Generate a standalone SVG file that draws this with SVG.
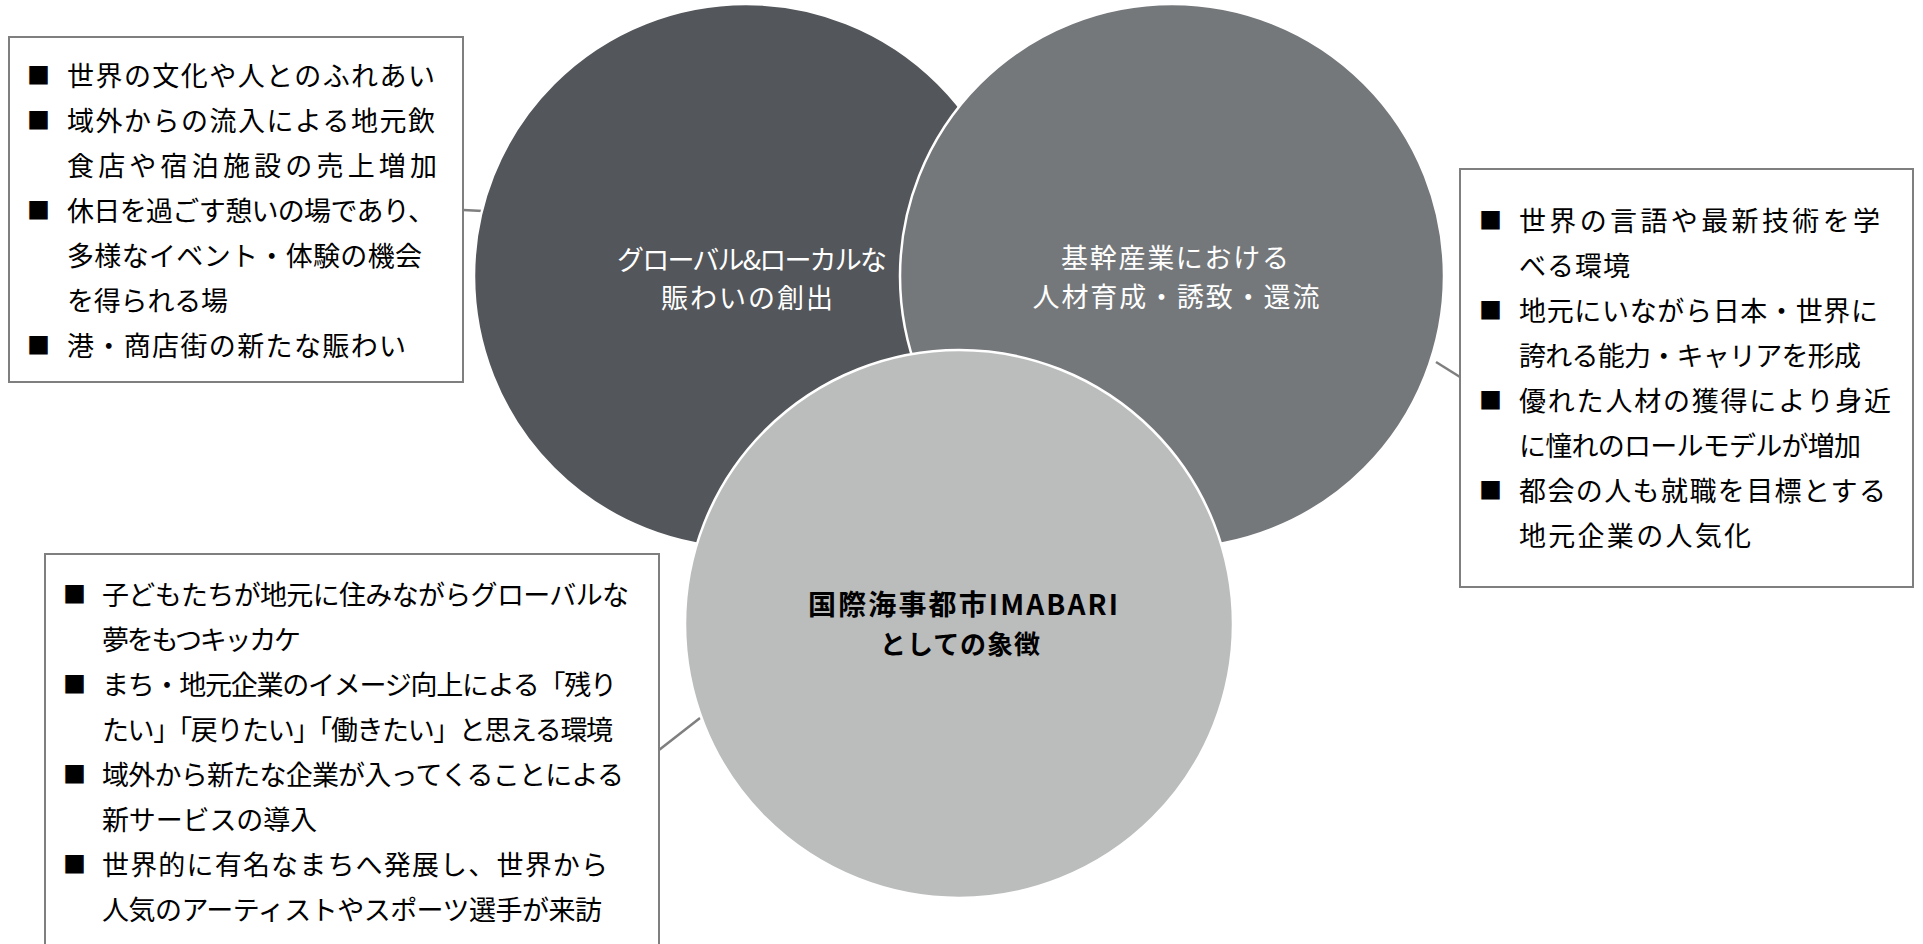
<svg xmlns="http://www.w3.org/2000/svg" width="1923" height="944" viewBox="0 0 1923 944">
<style>
  .box { fill: #ffffff; stroke: #7f7f7f; stroke-width: 2; }
  .conn { stroke: #7f7f7f; stroke-width: 2.5; fill: none; }
  .circ { stroke: #ffffff; stroke-width: 2.5; }
  .t { font-family: "Noto Sans CJK JP", "Noto Sans", sans-serif; font-size: 27px; fill: #000000; }
  .b { font-family: "Noto Sans CJK JP", "Noto Sans", sans-serif; font-size: 23px; fill: #000000; }
  .lw { font-family: "Noto Sans CJK JP", "Noto Sans", sans-serif; font-size: 27px; fill: #ffffff; text-anchor: middle; }
  .lb { font-family: "Noto Sans CJK JP", "Noto Sans", sans-serif; font-size: 26px; font-weight: bold; fill: #000000; text-anchor: middle; }
  .lb1 { font-size: 28px; }
</style>
<rect width="1923" height="944" fill="#ffffff"/>
<g id="connectors">
  <line class="conn" x1="463" y1="210" x2="483" y2="211"/>
  <line class="conn" x1="1436" y1="362" x2="1460" y2="377"/>
  <line class="conn" x1="659" y1="750" x2="700" y2="718"/>
</g>
<g id="circle-global-local">
  <circle class="circ" cx="746" cy="276" r="272" fill="#53565a"/>
  <text class="lw" x="752" y="270" textLength="270">グローバル&amp;ローカルな</text>
  <text class="lw" x="747" y="308" textLength="172">賑わいの創出</text>
</g>
<g id="circle-industry">
  <circle class="circ" cx="1172" cy="276" r="272" fill="#75787b"/>
  <text class="lw" x="1175" y="268" textLength="228">基幹産業における</text>
  <text class="lw" x="1176" y="307" textLength="287">人材育成・誘致・還流</text>
</g>
<g id="circle-symbol">
  <circle class="circ" cx="959" cy="624" r="274" fill="#bbbcbc"/>
  <text class="lb lb1" x="963" y="615" textLength="310">国際海事都市IMABARI</text>
  <text class="lb" x="960" y="654" textLength="160">としての象徴</text>
</g>
<g id="box-global-local">
  <rect class="box" x="9" y="37" width="454" height="345"/>
  <text class="b" x="27" y="84">■</text>
  <text class="b" x="27" y="129">■</text>
  <text class="b" x="27" y="219">■</text>
  <text class="b" x="27" y="354">■</text>
  <text class="t" x="67" y="86" textLength="368">世界の文化や人とのふれあい</text>
  <text class="t" x="67" y="131" textLength="368">域外からの流入による地元飲</text>
  <text class="t" x="67" y="176" textLength="370">食店や宿泊施設の売上増加</text>
  <text class="t" x="67" y="221" textLength="368">休日を過ごす憩いの場であり、</text>
  <text class="t" x="67" y="266" textLength="355">多様なイベント・体験の機会</text>
  <text class="t" x="67" y="311" textLength="161">を得られる場</text>
  <text class="t" x="67" y="356" textLength="339">港・商店街の新たな賑わい</text>
</g>
<g id="box-industry">
  <rect class="box" x="1460" y="169" width="453" height="418"/>
  <text class="b" x="1479" y="229">■</text>
  <text class="b" x="1479" y="319">■</text>
  <text class="b" x="1479" y="409">■</text>
  <text class="b" x="1479" y="499">■</text>
  <text class="t" x="1519" y="231" textLength="361">世界の言語や最新技術を学</text>
  <text class="t" x="1519" y="276" textLength="111">べる環境</text>
  <text class="t" x="1519" y="321" textLength="359">地元にいながら日本・世界に</text>
  <text class="t" x="1519" y="366" textLength="342">誇れる能力・キャリアを形成</text>
  <text class="t" x="1519" y="411" textLength="372">優れた人材の獲得により身近</text>
  <text class="t" x="1519" y="456" textLength="342">に憧れのロールモデルが増加</text>
  <text class="t" x="1519" y="501" textLength="367">都会の人も就職を目標とする</text>
  <text class="t" x="1519" y="546" textLength="232">地元企業の人気化</text>
</g>
<g id="box-symbol">
  <rect class="box" x="45" y="554" width="614" height="420"/>
  <text class="b" x="63" y="603">■</text>
  <text class="b" x="63" y="693">■</text>
  <text class="b" x="63" y="783">■</text>
  <text class="b" x="63" y="873">■</text>
  <text class="t" x="102" y="605" textLength="527">子どもたちが地元に住みながらグローバルな</text>
  <text class="t" x="102" y="650" textLength="199">夢をもつキッカケ</text>
  <text class="t" x="102" y="695" textLength="515">まち・地元企業のイメージ向上による「残り</text>
  <text class="t" x="102" y="740" textLength="511">たい」「戻りたい」「働きたい」と思える環境</text>
  <text class="t" x="102" y="785" textLength="522">域外から新たな企業が入ってくることによる</text>
  <text class="t" x="102" y="830" textLength="215">新サービスの導入</text>
  <text class="t" x="102" y="875" textLength="506">世界的に有名なまちへ発展し、世界から</text>
  <text class="t" x="102" y="920" textLength="500">人気のアーティストやスポーツ選手が来訪</text>
</g>
</svg>
